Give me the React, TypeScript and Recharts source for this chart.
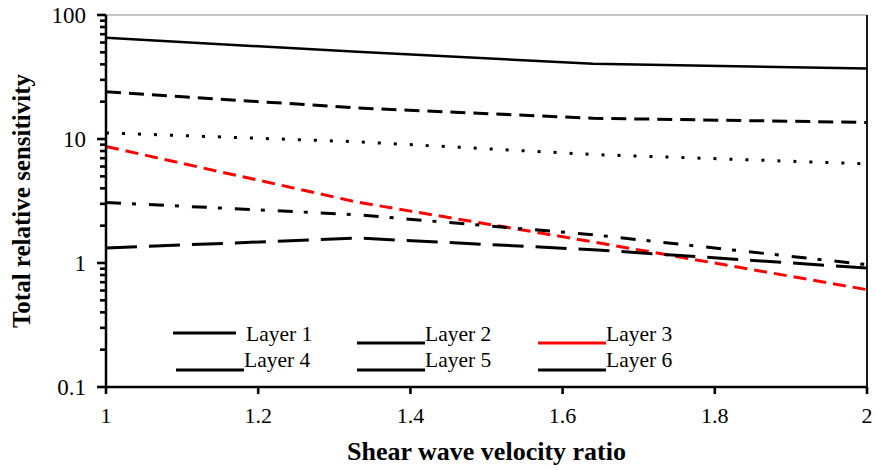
import React from 'react';
import { LineChart, Line, XAxis, YAxis, ReferenceLine, Legend, Label } from 'recharts';

const ratios = [1, 1.33, 1.64, 2];
const layer1 = [65.5, 50.5, 40.4, 37];
const layer2 = [24, 17.8, 14.7, 13.6];
const layer3 = [8.7, 3.1, 1.48, 0.61];
const layer4 = [11.2, 9.5, 7.5, 6.3];
const layer5 = [3.08, 2.45, 1.69, 0.97];
const layer6 = [1.32, 1.59, 1.28, 0.91];

const seriesNames = ['Layer 1', 'Layer 2', 'Layer 3', 'Layer 4', 'Layer 5', 'Layer 6'];
const seriesValues = [layer1, layer2, layer3, layer4, layer5, layer6];

const xTicks = [1, 1.2, 1.4, 1.6, 1.8, 2];
const yMajorTicks = [0.1, 1, 10, 100];
const yMinorTicks = [
  0.2, 0.3, 0.4, 0.5, 0.6, 0.7, 0.8, 0.9,
  2, 3, 4, 5, 6, 7, 8, 9,
  20, 30, 40, 50, 60, 70, 80, 90,
];

const xTitle = 'Shear wave velocity ratio';
const yTitle = 'Total relative sensitivity';

const data = ratios.map((r, i) => {
  const row: Record<string, number> = { ratio: r };
  seriesNames.forEach((n, k) => {
    row[n] = seriesValues[k][i];
  });
  return row;
});

const styles = [
  { color: '#000000', width: 2.5, dash: undefined },
  { color: '#000000', width: 3, dash: '15 8' },
  { color: '#ff0000', width: 3, dash: '13 7' },
  { color: '#000000', width: 3, dash: '3 13' },
  { color: '#000000', width: 3, dash: '15 11 4 13' },
  { color: '#000000', width: 3, dash: '31 12' },
];

const FONT = '"Liberation Serif", "Times New Roman", serif';
const MARGIN = { top: 15, right: 9, bottom: 53, left: 46 };
const Y_WIDTH = 60;
const AXIS_X = MARGIN.left + Y_WIDTH;

const YTick = (props: any) => {
  const { y, payload } = props;
  const isMajor = yMajorTicks.includes(payload.value);
  const len = isMajor ? 9 : 6;
  return (
    <g>
      <rect x={AXIS_X - len} y={y - 1.3} width={len} height={2.6} fill="#000" stroke="none" />
      {isMajor && (
        <text x={AXIS_X - 20} y={y} dy="0.35em" textAnchor="end" fontFamily={FONT} fontSize={23} fill="#000" stroke="none">
          {String(payload.value)}
        </text>
      )}
    </g>
  );
};

const XTick = (props: any) => {
  const { x, y, payload } = props;
  return (
    <text x={x} y={y} dy="0.71em" textAnchor="middle" fontFamily={FONT} fontSize={22} fill="#000" stroke="none">
      {String(payload.value)}
    </text>
  );
};

const XTitle = (props: any) => {
  const vb = props.viewBox || {};
  return (
    <text
      x={vb.x + vb.width / 2}
      y={vb.y + 73}
      textAnchor="middle"
      fontFamily={FONT}
      fontSize={26}
      fontWeight="bold"
      fill="#000"
    >
      {xTitle}
    </text>
  );
};

const YTitle = (props: any) => {
  const vb = props.viewBox || {};
  const cx = vb.x - 16;
  const cy = vb.y + vb.height / 2;
  return (
    <text
      x={cx}
      y={cy}
      transform={`rotate(-90 ${cx} ${cy})`}
      textAnchor="middle"
      fontFamily={FONT}
      fontSize={25}
      fontWeight="bold"
      fill="#000"
    >
      {yTitle}
    </text>
  );
};

const legendSlots = [
  { lx1: 173, lx2: 236, ly: 333, tx: 246, ty: 341 },
  { lx1: 357, lx2: 425, ly: 343, tx: 425, ty: 341 },
  { lx1: 538, lx2: 606, ly: 343, tx: 606, ty: 341 },
  { lx1: 176, lx2: 244, ly: 370, tx: 244, ty: 367 },
  { lx1: 357, lx2: 425, ly: 370, tx: 425, ty: 367 },
  { lx1: 538, lx2: 606, ly: 370, tx: 606, ty: 367 },
];

const LegendContent = (props: any) => {
  const payload = props.payload || [];
  return (
    <div style={{ position: 'relative', width: 0, height: 0 }}>
      <svg width={876} height={470} style={{ position: 'absolute', left: 0, top: 0, pointerEvents: 'none', overflow: 'visible' }}>
        {payload.map((entry: any, i: number) => {
          const s = legendSlots[i];
          if (!s) return null;
          return (
            <g key={i}>
              <line x1={s.lx1} x2={s.lx2} y1={s.ly} y2={s.ly} stroke={entry.color} strokeWidth={3.2} />
              <text x={s.tx} y={s.ty} fontFamily={FONT} fontSize={21.5} fill="#000">
                {entry.value}
              </text>
            </g>
          );
        })}
      </svg>
    </div>
  );
};

export default function App() {
  return (
    <div style={{ position: 'absolute', left: 0, top: 0, width: 876, height: 470, background: '#fff' }}>
      <LineChart width={876} height={470} data={data} margin={MARGIN}>
        <XAxis
          dataKey="ratio"
          type="number"
          domain={[1, 2]}
          ticks={xTicks}
          interval={0}
          height={30}
          tickSize={7}
          tickMargin={13}
          axisLine={{ stroke: '#000', strokeWidth: 2.5 }}
          tickLine={{ stroke: '#000', strokeWidth: 2.6 }}
          tick={<XTick />}
        >
          <Label content={<XTitle />} />
        </XAxis>
        <YAxis
          type="number"
          scale="log"
          domain={[0.1, 100]}
          allowDataOverflow
          ticks={[...yMajorTicks, ...yMinorTicks]}
          interval={0}
          width={Y_WIDTH}
          tickSize={8}
          tickMargin={12}
          axisLine={{ stroke: '#000', strokeWidth: 2.5 }}
          tickLine={false}
          tick={<YTick />}
        >
          <Label content={<YTitle />} />
        </YAxis>
        <ReferenceLine y={100} stroke="#8c8c8c" strokeWidth={1.2} />
        <ReferenceLine x={2} stroke="#000" strokeWidth={1.8} />
        {seriesNames.map((n, k) => (
          <Line
            key={n}
            dataKey={n}
            name={n}
            type="linear"
            stroke={styles[k].color}
            strokeWidth={styles[k].width}
            strokeDasharray={styles[k].dash}
            dot={false}
            activeDot={false}
            isAnimationActive={false}
          />
        ))}
        <Legend
          verticalAlign="top"
          content={<LegendContent />}
          wrapperStyle={{ position: 'absolute', left: 0, top: 0, width: 876, height: 0 }}
        />
      </LineChart>
    </div>
  );
}
